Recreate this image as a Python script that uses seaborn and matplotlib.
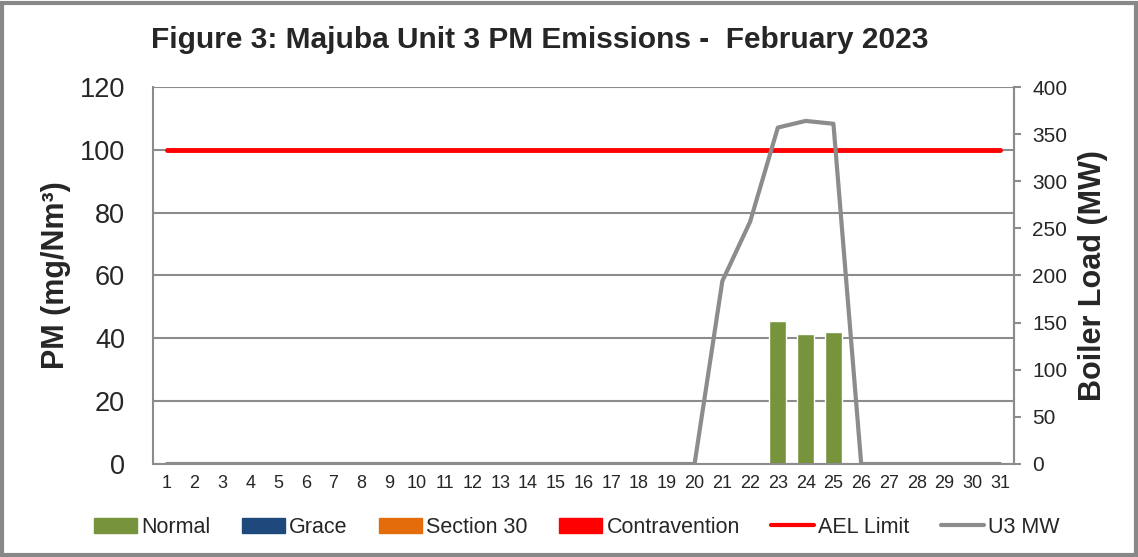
import numpy as np
import pandas as pd
import matplotlib
matplotlib.use("Agg")
import matplotlib.pyplot as plt
from matplotlib.patches import Patch, Rectangle
from matplotlib.lines import Line2D
import seaborn as sns

# Datos (febrero 2023, unidad 3)
days = list(range(1, 32))
pm_days = [23, 24, 25]
pm_normal = [45.6, 41.4, 42.0]
u3_mw = [0, 0, 0, 0, 0, 0, 0, 0, 0, 0, 0, 0, 0, 0, 0, 0, 0, 0, 0, 0,
         194, 257, 357, 364, 361, 0, 0, 0, 0, 0, 0]
ael_limit = 100
legend_labels = ["Normal", "Grace", "Section 30", "Contravention", "AEL Limit", "U3 MW"]

GREEN = "#77933C"
BLUE = "#1F497D"
ORANGE = "#E46C0A"
RED = "#FF0000"
GRAY = "#8C8C8C"

sns.set_theme(style="white")
plt.rcParams["font.family"] = ["Liberation Sans", "DejaVu Sans"]

df_pm = pd.DataFrame({"day": pm_days, "pm": pm_normal})
df_mw = pd.DataFrame({"day": days, "mw": u3_mw, "ael": [ael_limit] * len(days)})

fig = plt.figure(figsize=(11.38, 5.57), dpi=100)
ax = fig.add_axes([0.1344, 0.167, 0.7566, 0.6768])

sns.barplot(data=df_pm, x="day", y="pm", color=GREEN, native_scale=True,
            width=0.62, saturation=1, ax=ax, zorder=2)
sns.lineplot(data=df_mw, x="day", y="ael", color=RED, linewidth=3.5, ax=ax, zorder=3)

ax.set_xlim(0.5, 31.5)
ax.set_ylim(0, 120)
ax.set_yticks(range(0, 121, 20))
ax.set_xticks(days)
ax.set_xticklabels([str(d) for d in days], fontsize=13)
ax.tick_params(axis="y", labelsize=19.5, length=0, pad=20)
ax.tick_params(axis="x", length=0, pad=8)
ax.grid(axis="y", color="#8C8C8C", linewidth=1.5)
ax.set_axisbelow(True)
ax.set_xlabel("")
ax.set_ylabel("PM (mg/Nm³)", fontsize=22, fontweight="bold", labelpad=6)
for side in ["left", "bottom", "right"]:
    ax.spines[side].set_color(GRAY)
    ax.spines[side].set_linewidth(1.5)
ax.spines["top"].set_visible(False)

ax2 = ax.twinx()
sns.lineplot(data=df_mw, x="day", y="mw", color=GRAY, linewidth=3, ax=ax2)
ax2.set_ylim(0, 400)
ax2.set_yticks(range(0, 401, 50))
ax2.tick_params(axis="y", labelsize=15, length=5, width=1.5, color=GRAY, pad=8, right=True)
ax2.set_ylabel("Boiler Load (MW)", fontsize=22, fontweight="bold", labelpad=8)
for side in ["left", "bottom", "right", "top"]:
    ax2.spines[side].set_visible(False)
ax2.spines["right"].set_visible(True)
ax2.spines["right"].set_color(GRAY)
ax2.spines["right"].set_linewidth(1.5)

fig.suptitle("Figure 3: Majuba Unit 3 PM Emissions -  February 2023",
             x=0.4745, y=0.953, fontsize=21.5, fontweight="bold")

handles = [
    Patch(facecolor=GREEN, edgecolor=GREEN),
    Patch(facecolor=BLUE, edgecolor=BLUE),
    Patch(facecolor=ORANGE, edgecolor=ORANGE),
    Patch(facecolor=RED, edgecolor=RED),
    Line2D([0], [0], color=RED, linewidth=3),
    Line2D([0], [0], color=GRAY, linewidth=3),
]
fig.legend(handles, legend_labels, loc="center", bbox_to_anchor=(0.507, 0.053),
           ncol=6, frameon=False, fontsize=15.5, handlelength=2.0,
           handletextpad=0.2, columnspacing=1.45)

fig.patches.append(Rectangle((0.002, 0.004), 0.996, 0.99, transform=fig.transFigure,
                             fill=False, edgecolor="#888888", linewidth=3))

fig.savefig("out.png", dpi=100)
